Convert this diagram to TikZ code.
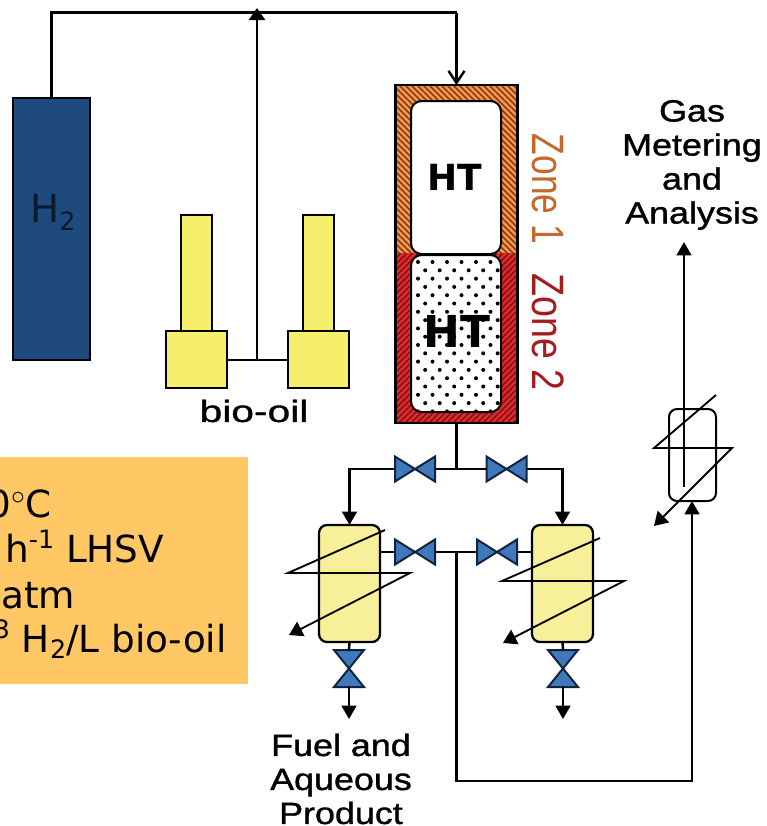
\documentclass[tikz,border=0pt]{standalone}
\usepackage{fontspec}
\setmainfont{DejaVu Sans}
\newfontfamily\lab{Liberation Sans}[FakeStretch=1.17,FakeBold=1.2]
\newfontfamily\labwide{Liberation Sans}[FakeStretch=1.33,FakeBold=1.2]
\newfontfamily\zonefont{Liberation Sans}
\usetikzlibrary{arrows.meta,calc}
\newcommand{\smallraise}[2]{\raisebox{#1}{\fontsize{19}{19}\selectfont #2}}
\tikzset{
  x=0.75pt,y=-0.75pt,
  box/.style={draw=black,line width=1.7pt,inner sep=0,outer sep=0,rectangle},
  sized/.style 2 args={minimum width=#1*0.75pt,minimum height=#2*0.75pt},
  tank/.style={box,fill=h2blue},
  yellowbox/.style={box,fill=yell},
  vessel/.style={box,fill=vyell,rounded corners=6pt},
  pipe/.style={draw=black,line width=1.8pt},
  thinpipe/.style={draw=black,line width=1.4pt},
  flow/.style={pipe,-{Triangle[length=10pt,width=11pt]}},
  cool/.style={thinpipe,-{Triangle[length=10pt,width=12pt]}},
  valvespace/.style={inner sep=0,outer sep=0,rectangle},
  valvepart/.style={draw=valveline,fill=valvefill,line width=1.5pt,line join=miter},
  label/.style={font=\lab\fontsize{23}{25.5}\selectfont,align=center,text=black,inner sep=0},
  cond/.style={font=\fontsize{28}{30}\selectfont,text=black,inner sep=0},
  inner/.style={draw=black,line width=1.5pt,rounded corners=8pt},
}
\definecolor{h2blue}{HTML}{1E4A7E}
\definecolor{yell}{HTML}{F6EF6C}
\definecolor{vyell}{HTML}{F8EF9A}
\definecolor{valvefill}{HTML}{3F79BC}
\definecolor{valveline}{HTML}{10243F}
\definecolor{condbg}{HTML}{FFC864}
\definecolor{zoneA}{HTML}{F59A4E}
\definecolor{zoneAd}{HTML}{8A3A12}
\definecolor{zoneB}{HTML}{DE2C30}
\definecolor{zoneBd}{HTML}{8A1214}
\definecolor{zoneAt}{HTML}{C4682E}
\definecolor{zoneBt}{HTML}{A41C20}
\begin{document}
\begin{tikzpicture}
\useasboundingbox (0,0) rectangle (767,826);
\clip (0,0) rectangle (767,826);
\fill[white] (0,0) rectangle (767,826);

% process conditions
\node[fill=condbg,inner sep=0,outer sep=0,minimum width=250*0.75pt,minimum height=227*0.75pt] (cond) at (123,570.5) {};
\node[cond,anchor=base east] (c1) at (52,517) {0$^\circ$C};
\node[cond,anchor=base west] (c2) at (5,562) {h\smallraise{10pt}{-1} LHSV};
\node[cond,anchor=base west] (c3) at (1,608) {atm};
\node[cond,anchor=base east] (c4) at (227,652) {\smallraise{10pt}{3} H\smallraise{-5pt}{2}/L bio-oil};

% hydrogen tank
\node[tank,sized={77}{262}] (h2) at (51.5,229) {};
\node[text=h2blue!35!black,font=\fontsize{29}{30}\selectfont,anchor=base,inner sep=0] (h2t) at (53,222) {H\smallraise{-6pt}{2}};

% bio-oil pumps
\node[yellowbox,sized={31}{116},anchor=south] (col1) at (196.5,331) {};
\node[yellowbox,sized={31}{116},anchor=south] (col2) at (318.5,331) {};
\node[yellowbox,sized={61}{57},anchor=north] (pump1) at (196.5,331) {};
\node[yellowbox,sized={61}{57},anchor=north] (pump2) at (318.5,331) {};
\node[label,font=\labwide\fontsize{23}{25}\selectfont] (bio) at (254,411) {bio-oil};

% reactor
\node[rectangle,inner sep=0,outer sep=0,sized={122}{338},anchor=north] (reactor) at (456.5,85) {};
\begin{scope}
  \clip (395,85) rectangle (518,253);
  \fill[zoneA] (395,85) rectangle (518,253);
  \foreach \k in {0,6,...,310} {
    \draw[zoneAd,line width=1.2pt] (395+\k-170,85) -- (395+\k,255);
  }
\end{scope}
\begin{scope}
  \clip (395,253) rectangle (518,423);
  \fill[zoneB] (395,253) rectangle (518,423);
  \foreach \k in {0,6,...,310} {
    \draw[zoneBd,line width=1.2pt] (395+\k,253) -- (395+\k-170,423);
  }
\end{scope}
\draw[pipe] (reactor.north west) rectangle (reactor.south east);
\node[inner,fill=white,sized={90}{153},anchor=north] (ht1) at (456,100) {};
\node[inner,fill=white,sized={90}{157},anchor=north] (ht2) at (456,254) {};
\begin{scope}
  \clip[rounded corners=8pt] (411,254) rectangle (501,411);
  \foreach \r in {0,...,18} {
    \foreach \c in {0,...,6} {
      \fill[black] ({418+\c*14.5+mod(\r,2)*7.2},{262+\r*8.3}) circle[radius=2];
    }
  }
\end{scope}
\node[font=\bfseries\fontsize{27}{30}\selectfont,inner sep=0] (ht1t) at (455,177) {HT};
\node[font=\bfseries\fontsize{33}{34}\selectfont,inner sep=0] (ht2t) at (457,331) {HT};
\node[rotate=-90,text=zoneAt,font=\zonefont\fontsize{34}{36}\selectfont,inner sep=0] (z1) at (548,189) {\scalebox{0.78}[1]{Zone 1}};
\node[rotate=-90,text=zoneBt,font=\zonefont\fontsize{34}{36}\selectfont,inner sep=0] (z2) at (548,332) {\scalebox{0.83}[1]{Zone 2}};

% feed lines
\coordinate (topl) at (h2.north |- 0,12.5);
\coordinate (topr) at (reactor.north |- 0,12.5);
\coordinate (tee) at (257,360);
\draw[pipe] (h2.north) -- (topl) -- (topr);
\draw[pipe,-{Straight Barb[length=9pt,width=12pt]}] (topr) -- (reactor.north);
\draw[pipe] (pump1.east |- tee) -- (pump2.west |- tee);
\draw[pipe,-{Triangle[length=9pt,width=12pt]}] (tee) -- (257,8);

% separators
\node[vessel,sized={61}{117},anchor=north] (sepl) at (349.5,525) {};
\node[vessel,sized={61}{117},anchor=north] (sepr) at (562.5,525) {};

% valves
\foreach \n/\x/\y in {vtl/415/469,vtr/506.5/469,vbl/415/552,vbr/497/552} {
  \node[valvespace,sized={40}{25}] (\n) at (\x,\y) {};
  \draw[valvepart] (\n.north west) -- (\n.center) -- (\n.south west) -- cycle;
  \draw[valvepart] (\n.north east) -- (\n.center) -- (\n.south east) -- cycle;
}
\foreach \n/\x in {vdl/349,vdr/563} {
  \node[valvespace,sized={30}{37}] (\n) at (\x,668.5) {};
  \draw[valvepart] (\n.north west) -- (\n.center) -- (\n.north east) -- cycle;
  \draw[valvepart] (\n.south west) -- (\n.center) -- (\n.south east) -- cycle;
}

% product lines
\coordinate (j1) at (reactor.south |- vtl.east);
\coordinate (j2) at (reactor.south |- vbl.east);
\draw[pipe] (reactor.south) -- (j1);
\draw[pipe] (j1) -- (vtl.east);
\draw[pipe] (j1) -- (vtr.west);
\draw[flow] (vtl.west) -| (sepl.north);
\draw[flow] (vtr.east) -| (sepr.north);
\draw[pipe] (sepl.east |- vbl.west) -- (vbl.west);
\draw[pipe] (vbl.east) -- (vbr.west);
\draw[pipe] (vbr.east) -- (sepr.west |- vbr.east);
\draw[pipe] (sepl.south) -- (vdl.north);
\draw[pipe] (sepr.south) -- (vdr.north);
\coordinate (outl) at (349,719);
\coordinate (outr) at (563,719);
\draw[flow] (vdl.south) -- (outl);
\draw[flow] (vdr.south) -- (outr);

% gas line
\node[draw=black,line width=1.5pt,rectangle,rounded corners=6pt,inner sep=0,outer sep=0,sized={47}{92},anchor=north] (gas) at (692.5,409) {};
\coordinate (gb) at (j2 |- 0,781);
\coordinate (gc) at (692,781);
\draw[flow] (j2) -- (gb) -- (gc) -- (gas.south -| gc);
\coordinate (gup) at (684,487);
\coordinate (gtop) at (684,242);
\draw[flow] (gup) -- (gtop);

% cooling coils
\coordinate (a1) at (385,530); \coordinate (a2) at (288,573); \coordinate (a3) at (410,573); \coordinate (a4) at (289,635);
\coordinate (b1) at (600,538); \coordinate (b2) at (502,581); \coordinate (b3) at (624,581); \coordinate (b4) at (503,643);
\coordinate (d1) at (716,395); \coordinate (d2) at (654,448); \coordinate (d3) at (732,448); \coordinate (d4) at (654,526);
\draw[cool] (a1) -- (a2) -- (a3) -- (a4);
\draw[cool] (b1) -- (b2) -- (b3) -- (b4);
\draw[cool] (d1) -- (d2) -- (d3) -- (d4);

% labels
\node[label] (gasl) at (692,165) {Gas\\Metering\\and\\Analysis};
\node[label] (fuel) at (341,779) {Fuel and\\Aqueous\\Product};
\end{tikzpicture}
\end{document}
